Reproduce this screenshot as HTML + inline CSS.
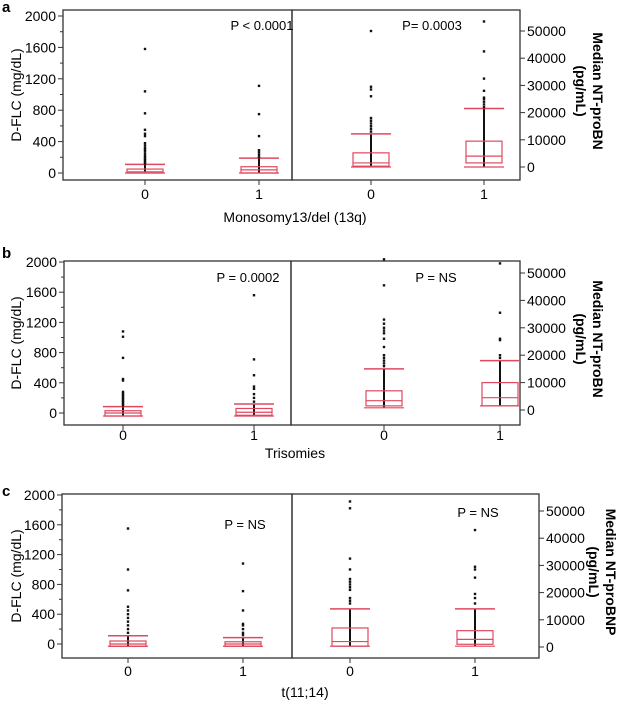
<!DOCTYPE html>
<html><head><meta charset="utf-8"><style>
body{margin:0;background:#fff;}
svg{display:block;font-family:"Liberation Sans",Arial,sans-serif;}
</style></head><body>
<svg id="chart" width="628" height="703" viewBox="0 0 628 703"></svg>
<script>
// ---- data ----
const panelIds = ['a','b','c'];
const categories = ['0','1'];
const xTitles = ['Monosomy13/del (13q)','Trisomies','t(11;14)'];
const rightTitles = ['Median NT-proBN','Median NT-proBN','Median NT-proBNP'];
const pLeft = ['P < 0.0001','P = 0.0002','P = NS'];
const pRight = ['P= 0.0003','P = NS','P = NS'];
const leftTicks = [0,400,800,1200,1600,2000];
const rightTicks = [0,10000,20000,30000,40000,50000];
// box stats [low, q1, median, q3, high]
const flcBoxA = [[0,0,15,50,110],[0,0,40,80,190]];
const bnpBoxA = [[0,300,1500,5200,12200],[0,1500,4000,9500,21500]];
const flcBoxB = [[-40,-40,0,30,85],[-40,-30,10,60,120]];
const bnpBoxB = [[800,1500,3400,7000,15000],[1500,1500,4500,10000,18000]];
const flcBoxC = [[-30,-30,0,40,110],[-30,-30,0,30,85]];
const bnpBoxC = [[300,300,2000,7000,14000],[300,1000,2800,6000,14000]];
const flcOutA = [[1580,1040,760,550,500,470,380,350,320,300,280,250,220,200,180,160,140,120],[1110,750,470,290,260,230,200]];
const bnpOutA = [[50000,29500,28500,26000,18000,17000,16000,15000,14000,13000],[53500,42500,32500,28000,25500,25000,24000,23000,22000]];
const flcOutB = [[1080,1010,730,450,430,280,260,240,220,200,180,160,140,120,100],[1560,710,500,350,320,250,200,150]];
const bnpOutB = [[55000,45500,33000,31500,30000,29000,28000,26000,23000,20000,19000,18000,17000,16000],[53500,35500,26000,25500,20000,19000]];
const flcOutC = [[1550,1000,720,500,450,400,350,300,250,200,150],[1080,710,450,270,250,200,150,120]];
const bnpOutC = [[53500,51000,32500,28500,25000,24000,23000,22000,21000,18000,17000,16000],[43000,29500,28500,25500,19500,18000,16000]];

const flcBoxes=[flcBoxA,flcBoxB,flcBoxC], bnpBoxes=[bnpBoxA,bnpBoxB,bnpBoxC];
const flcOuts=[flcOutA,flcOutB,flcOutC], bnpOuts=[bnpOutA,bnpOutB,bnpOutC];

// ---- layout ----
const layout = [
 {top:10,bot:180,x0:63,xm:292,x1:520,l0:173,l2000:16,r0:167,r50k:31,cx:[145,259,371,484],letterY:12,tickY:199,titleY:222,pl:[262,30],pr:[432,30]},
 {top:261,bot:425,x0:64,xm:291,x1:520,l0:413,l2000:262,r0:410,r50k:273,cx:[123,254,384,500],letterY:258,tickY:440,titleY:458,pl:[248,282],pr:[436,282]},
 {top:494,bot:658,x0:62,xm:292,x1:539,l0:644,l2000:495,r0:647,r50k:511,cx:[128,243,350,475],letterY:496,tickY:676,titleY:697,pl:[245,529],pr:[478,517]}
];
const svg=document.getElementById('chart');
const NS='http://www.w3.org/2000/svg';
function mk(tag,attrs,parent,text){const e=document.createElementNS(NS,tag);for(const k in attrs)e.setAttribute(k,attrs[k]);if(text!==undefined)e.textContent=text;(parent||svg).appendChild(e);return e;}
const RED='#e0485f';

panelIds.forEach((pid,i)=>{
  const L=layout[i];
  const g=mk('g',{});
  
  
  const yL=v=>L.l0+(L.l2000-L.l0)*v/2000;
  const yR=v=>L.r0+(L.r50k-L.r0)*v/50000;
  const lt=mk('text',{x:2,y:L.letterY,'font-size':15,'font-weight':'bold'},g,pid);
  
  
  // frames
  const fl=mk('rect',{x:L.x0,y:L.top,width:L.xm-L.x0,height:L.bot-L.top,fill:'none',stroke:'#333','stroke-width':1.3},g);
  
  
  const fr=mk('rect',{x:L.xm,y:L.top,width:L.x1-L.xm,height:L.bot-L.top,fill:'none',stroke:'#333','stroke-width':1.3},g);
  
  
  // left axis ticks
  for(let v=0;v<=2000;v+=200){const major=leftTicks.includes(v);mk('line',{x1:L.x0-(major?5:3),x2:L.x0,y1:yL(v),y2:yL(v),stroke:'#333'},g);}
  leftTicks.forEach(v=>{const t=mk('text',{x:L.x0-7,y:yL(v)+5,'font-size':14,'text-anchor':'end'},g,String(v));
    
    });
  rightTicks.forEach(v=>{mk('line',{x1:L.x1,x2:L.x1+5,y1:yR(v),y2:yR(v),stroke:'#333'},g);
    const t=mk('text',{x:L.x1+7,y:yR(v)+5,'font-size':14},g,String(v));
    
    });
  // left y title
  const ym=(L.top+L.bot)/2;
  const lyt=mk('text',{x:0,y:0,'font-size':14,'text-anchor':'middle',transform:`translate(21,${ym}) rotate(-90)`},g,'D-FLC (mg/dL)');
  
  
  const ryt=mk('text',{x:0,y:0,'font-size':14,'font-weight':'bold','text-anchor':'middle',transform:`translate(${i==2?606:593},${ym-4}) rotate(90)`},g);
  
  
  mk('tspan',{x:0,dy:0},ryt,rightTitles[i]);
  mk('tspan',{x:0,dy:17},ryt,'(pg/mL)');
  // x ticks & labels
  L.cx.forEach((cx,j)=>{mk('line',{x1:cx,x2:cx,y1:L.bot,y2:L.bot+5,stroke:'#333'},g);
    const t=mk('text',{x:cx,y:L.tickY,'font-size':14,'text-anchor':'middle'},g,categories[j%2]);
    
    });
  const xt=mk('text',{x:i==2?305:295,y:L.titleY,'font-size':14,'text-anchor':'middle'},g,xTitles[i]);
  
  
  const p1=mk('text',{x:L.pl[0],y:L.pl[1],'font-size':13,'text-anchor':'middle'},g,pLeft[i]);
  
  
  const p2=mk('text',{x:L.pr[0],y:L.pr[1],'font-size':13,'text-anchor':'middle'},g,pRight[i]);
  
  
  // boxes
  const drawBox=(cx,st,outs,yf,name)=>{
    const bg=mk('g',{},g);
    
    
    const [lo,q1,md,q3,hi]=st;
    mk('line',{x1:cx,x2:cx,y1:yf(lo),y2:yf(hi),stroke:'#111','stroke-width':2},bg);
    mk('rect',{x:cx-18,y:yf(q3),width:36,height:Math.max(1,yf(q1)-yf(q3)),fill:'none',stroke:RED,'stroke-width':1.2},bg);
    mk('line',{x1:cx-18,x2:cx+18,y1:yf(md),y2:yf(md),stroke:RED,'stroke-width':1.2},bg);
    mk('line',{x1:cx-20,x2:cx+20,y1:yf(hi),y2:yf(hi),stroke:RED,'stroke-width':1.5},bg);
    mk('line',{x1:cx-20,x2:cx+20,y1:yf(lo),y2:yf(lo),stroke:RED,'stroke-width':1.2},bg);
    outs.forEach(v=>{const d=mk('rect',{x:cx-1.2,y:yf(v)-1.2,width:2.4,height:2.4,fill:'#111'},bg);
      
      });
  };
  [0,1].forEach(j=>{
    drawBox(L.cx[j],flcBoxes[i][j],flcOuts[i][j],yL,'flc-box-'+categories[j]);
    drawBox(L.cx[j+2],bnpBoxes[i][j],bnpOuts[i][j],yR,'bnp-box-'+categories[j]);
  });
});
</script>
</body></html>
